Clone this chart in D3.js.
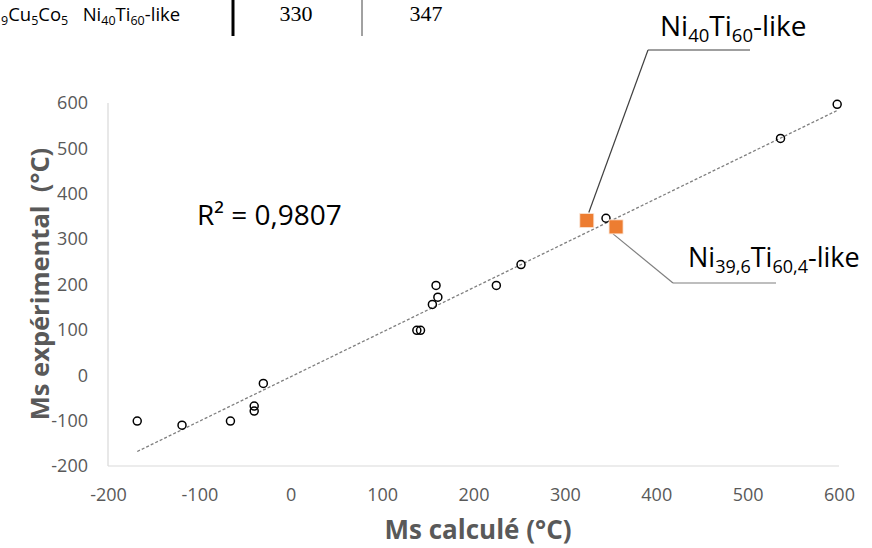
<!DOCTYPE html>
<html><head><meta charset="utf-8">
<script src="https://cdn.jsdelivr.net/npm/d3@7/dist/d3.min.js"></script>
<style>
html,body{margin:0;padding:0;background:#fff;}
svg{display:block;}
</style></head>
<body>
<svg id="c" width="872" height="548"></svg>
<script>
// ---- data ----
const calcX = [-168, -119, -66, -40, -40, -30, 138, 142, 155, 161, 159, 225, 252, 345, 536, 598];
const expY  = [-101, -110, -101, -68, -79, -18, 99, 99, 156, 172, 198, 198, 244, 346, 522, 597];
const alloyCalc = [324, 356];
const alloyExp  = [341, 327];
const xTicks = [-200, -100, 0, 100, 200, 300, 400, 500, 600];
const yTicks = [-200, -100, 0, 100, 200, 300, 400, 500, 600];
const r2Text = "R² = 0,9807";
const tableCalc = 330, tableExp = 347;

const svg = d3.select("#c");
const FONT = "'Open Sans',sans-serif";
const x = d3.scaleLinear().domain([-200, 600]).range([108, 839]);
const y = d3.scaleLinear().domain([-200, 600]).range([466, 103]);

// rich text with subscripts: parts = [[text, isSub], ...]
function rich(g, tx, ty, size, subSize, shift, parts) {
  const t = g.append("text").attr("x", tx).attr("y", ty).attr("font-family", FONT)
    .attr("font-size", size).attr("fill", "#000");
  let cur = 0;
  parts.forEach(p => {
    const target = p[1] ? shift : 0;
    t.append("tspan").attr("dy", target - cur).attr("font-size", p[1] ? subSize : size).text(p[0]);
    cur = target;
  });
  return t;
}

// top table fragment
const tf = svg.append("g");
rich(tf, 1, 21, 18.5, 12.5, 4, [["9",1],["Cu"],["5",1],["Co"],["5",1],["\u00a0\u00a0\u00a0Ni"],["40",1],["Ti"],["60",1],["-like"]]);
tf.append("line").attr("x1", 233).attr("x2", 233).attr("y1", 0).attr("y2", 36).attr("stroke", "#000").attr("stroke-width", 3);
tf.append("line").attr("x1", 362).attr("x2", 362).attr("y1", 0).attr("y2", 36).attr("stroke", "#444").attr("stroke-width", 1);
tf.append("text").attr("x", 296).attr("y", 21).attr("text-anchor", "middle").attr("font-family", "'Liberation Serif',serif").attr("font-size", 22).text(tableCalc);
tf.append("text").attr("x", 426).attr("y", 21).attr("text-anchor", "middle").attr("font-family", "'Liberation Serif',serif").attr("font-size", 22).text(tableExp);

// axes lines
svg.append("line").attr("x1", x(-200)).attr("x2", x(-200)).attr("y1", y(600)).attr("y2", y(-200)).attr("stroke", "#d9d9d9").attr("stroke-width", 1.2);
svg.append("line").attr("x1", x(-200)).attr("x2", x(600)).attr("y1", y(-200)).attr("y2", y(-200)).attr("stroke", "#d9d9d9").attr("stroke-width", 1.2);

// tick labels via axes
const fmt = d => String(d);
const xAxis = svg.append("g").attr("transform", `translate(0,${y(-200)})`)
  .call(d3.axisBottom(x).tickValues(xTicks).tickFormat(fmt).tickSize(0).tickPadding(22));
xAxis.select(".domain").remove();
xAxis.selectAll("text").attr("font-family", FONT).attr("font-size", 18).attr("fill", "#595959");
const yAxis = svg.append("g").attr("transform", `translate(${x(-200)},0)`)
  .call(d3.axisLeft(y).tickValues(yTicks).tickFormat(fmt).tickSize(0).tickPadding(20));
yAxis.select(".domain").remove();
yAxis.selectAll("text").attr("font-family", FONT).attr("font-size", 18).attr("fill", "#595959");

// axis titles
svg.append("text").attr("x", 478).attr("y", 539).attr("text-anchor", "middle")
  .attr("font-family", FONT).attr("font-weight", "bold").attr("font-size", 26).attr("fill", "#595959").text("Ms calculé (°C)");
svg.append("text").attr("transform", "translate(49,284) rotate(-90)").attr("text-anchor", "middle")
  .attr("font-family", FONT).attr("font-weight", "bold").attr("font-size", 25.5).attr("fill", "#595959").text("Ms expérimental\u00a0 (°C)");

// regression trend line
const n = calcX.length;
const mx = d3.mean(calcX), my = d3.mean(expY);
let sxy = 0, sxx = 0;
for (let i = 0; i < n; i++) { sxy += (calcX[i]-mx)*(expY[i]-my); sxx += (calcX[i]-mx)**2; }
const slope = sxy / sxx, icpt = my - slope * mx;
const x0 = d3.min(calcX), x1 = d3.max(calcX);
svg.append("line").attr("x1", x(x0)).attr("y1", y(slope*x0+icpt)).attr("x2", x(x1)).attr("y2", y(slope*x1+icpt))
  .attr("stroke", "#7f7f7f").attr("stroke-width", 1.3).attr("stroke-dasharray", "3,2");

// points
svg.append("g").selectAll("circle").data(calcX).join("circle")
  .attr("cx", (d) => x(d)).attr("cy", (d, i) => y(expY[i])).attr("r", 4)
  .attr("fill", "none").attr("stroke", "#000").attr("stroke-width", 1.5);

// R2
svg.append("text").attr("x", 197).attr("y", 225).attr("font-family", FONT).attr("font-size", 28).attr("fill", "#000").text(r2Text);

// leader lines
const lead = [
  {hx1: 648, hx2: 750, hy: 50, tx: 660, ty: 36},
  {hx1: 673, hx2: 776, hy: 283, tx: 688, ty: 267}
];
alloyCalc.forEach((c, i) => {
  const L = lead[i];
  const px = x(c), py = y(alloyExp[i]);
  const ey = i === 0 ? py - 8 : py + 7;
  const ex = i === 0 ? px + 2 : px - 3;
  const col = i === 0 ? "#404040" : "#7f7f7f";
  svg.append("line").attr("x1", L.hx1).attr("y1", L.hy).attr("x2", L.hx2).attr("y2", L.hy).attr("stroke", col).attr("stroke-width", 1.2);
  svg.append("line").attr("x1", L.hx1).attr("y1", L.hy).attr("x2", ex).attr("y2", ey).attr("stroke", col).attr("stroke-width", 1.2);
});

// squares
svg.append("g").selectAll("rect").data(alloyCalc).join("rect")
  .attr("x", (d) => x(d) - 7).attr("y", (d, i) => y(alloyExp[i]) - 7).attr("width", 14).attr("height", 14)
  .attr("fill", "#ED7D31").attr("stroke", "#fbe5d6").attr("stroke-width", 0.8);

// labels with subscripts
rich(svg, lead[0].tx, lead[0].ty, 28, 18.5, 6, [["Ni"],["40",1],["Ti"],["60",1],["-like"]]);
rich(svg, lead[1].tx, lead[1].ty, 27, 18, 6, [["Ni"],["39,6",1],["Ti"],["60,4",1],["-like"]]);
</script>
</body></html>
